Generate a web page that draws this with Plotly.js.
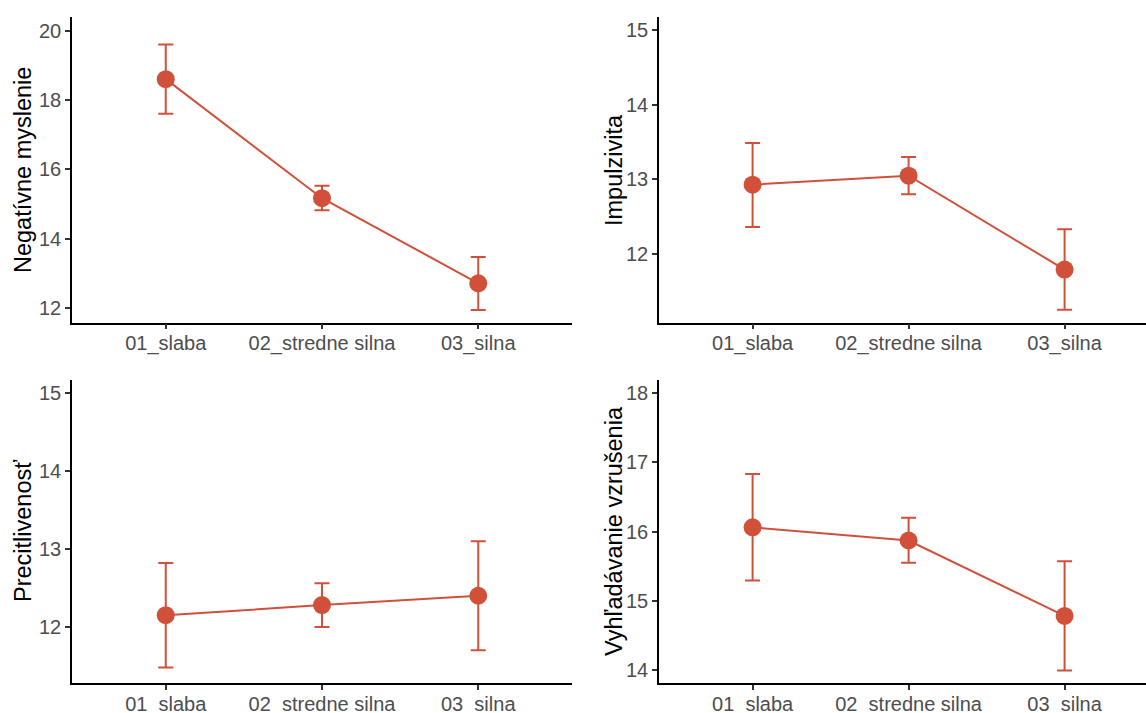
<!DOCTYPE html>
<html>
<head>
<meta charset="utf-8">
<script src="https://cdn.plot.ly/plotly-3.0.1.min.js"></script>
<style>
  html, body { margin: 0; padding: 0; background: #ffffff; }
  #chart { width: 1146px; height: 713px; }
</style>
</head>
<body>
<div id="chart"></div>
<script>
// ---- data ----
const categories = ["01_slaba", "02_stredne silna", "03_silna"];

const negMean = [18.60, 15.17, 12.72];
const negLow  = [17.60, 14.82, 11.95];
const negHigh = [19.60, 15.53, 13.48];

const impMean = [12.93, 13.05, 11.79];
const impLow  = [12.36, 12.80, 11.25];
const impHigh = [13.49, 13.30, 12.33];

const preMean = [12.15, 12.28, 12.40];
const preLow  = [11.48, 12.00, 11.70];
const preHigh = [12.82, 12.56, 13.10];

const vyhMean = [16.06, 15.87, 14.78];
const vyhLow  = [15.29, 15.55, 13.99];
const vyhHigh = [16.83, 16.20, 15.57];

const yTitles = ["Negatívne myslenie", "Impulzivita", "Precitlivenosť", "Vyhľadávanie vzrušenia"];
const yTicks = [
  [12, 14, 16, 18, 20],
  [12, 13, 14, 15],
  [12, 13, 14, 15],
  [14, 15, 16, 17, 18]
];

// ---- styling ----
const RED = "#D1503A";
const W = 1146, H = 713;
const FONT = "Liberation Sans, Arial, Helvetica, sans-serif";
const TICK_SIZE = 20;
const TITLE_SIZE = 23.5;

function trace(mean, low, high, xa, ya) {
  return {
    type: "scatter",
    mode: "lines+markers",
    x: categories,
    y: mean,
    xaxis: xa,
    yaxis: ya,
    line: { color: RED, width: 2 },
    marker: { color: RED, size: 18 },
    error_y: {
      type: "data",
      symmetric: false,
      array: high.map((h, i) => h - mean[i]),
      arrayminus: mean.map((m, i) => m - low[i]),
      color: RED,
      thickness: 2,
      width: 7.5
    },
    hoverinfo: "x+y",
    showlegend: false,
    cliponaxis: false
  };
}

const data = [
  trace(negMean, negLow, negHigh, "x", "y"),
  trace(impMean, impLow, impHigh, "x2", "y2"),
  trace(preMean, preLow, preHigh, "x3", "y3"),
  trace(vyhMean, vyhLow, vyhHigh, "x4", "y4")
];

// pixel geometry -> paper fractions
const px = v => v / W;
const py = v => 1 - v / H;
const leftDom = [px(72), px(572)];
const rightDom = [px(659), 1];
const topDom = [py(322.5), py(17)];
const botDom = [py(683), py(380)];

const unit = 156; // px per category step
const leftRange = [-0.6, 2.6];
const rightRange = [-0.6, -0.6 + (W - 659) / unit];

function xaxis(dom, range, anchor) {
  return {
    domain: dom, range: range, anchor: anchor,
    type: "category", categoryorder: "array", categoryarray: categories,
    showline: true, linecolor: "#000000", linewidth: 1.5,
    ticks: "outside", ticklen: 5, tickwidth: 1.5, tickcolor: "#333333",
    ticklabelstandoff: -3,
    showgrid: false, zeroline: false, fixedrange: true,
    tickfont: { family: FONT, size: TICK_SIZE, color: "#4D4D4D" },
    automargin: false
  };
}
function yaxis(dom, range, anchor, ticks) {
  return {
    domain: dom, range: range, anchor: anchor,
    tickmode: "array", tickvals: ticks, ticktext: ticks.map(String),
    showline: true, linecolor: "#000000", linewidth: 1.5,
    ticks: "outside", ticklen: 5, tickwidth: 1.5, tickcolor: "#333333",
    showgrid: false, zeroline: false, fixedrange: true,
    tickfont: { family: FONT, size: TICK_SIZE, color: "#4D4D4D" },
    automargin: false
  };
}

function yTitle(text, xPix, yCenterPix) {
  return {
    text: text, xref: "paper", yref: "paper",
    x: px(xPix), y: py(yCenterPix),
    xanchor: "center", yanchor: "middle",
    textangle: -90, showarrow: false,
    font: { family: FONT, size: TITLE_SIZE, color: "#000000" }
  };
}

const layout = {
  width: W, height: H,
  margin: { l: 0, r: 0, t: 0, b: 0, pad: 0 },
  paper_bgcolor: "#ffffff", plot_bgcolor: "#ffffff",
  showlegend: false,
  xaxis:  xaxis(leftDom, leftRange, "y"),
  yaxis:  yaxis(topDom, [11.59, 20.39], "x", yTicks[0]),
  xaxis2: xaxis(rightDom, rightRange, "y2"),
  yaxis2: yaxis(topDom, [11.08, 15.18], "x2", yTicks[1]),
  xaxis3: xaxis(leftDom, leftRange, "y3"),
  yaxis3: yaxis(botDom, [11.28, 15.17], "x3", yTicks[2]),
  xaxis4: xaxis(rightDom, rightRange, "y4"),
  yaxis4: yaxis(botDom, [13.81, 18.19], "x4", yTicks[3]),
  annotations: [
    yTitle(yTitles[0], 23, 170),
    yTitle(yTitles[1], 614, 170),
    yTitle(yTitles[2], 23, 531),
    yTitle(yTitles[3], 614, 531)
  ]
};

Plotly.newPlot("chart", data, layout, { displayModeBar: false, staticPlot: false });
</script>
</body>
</html>
